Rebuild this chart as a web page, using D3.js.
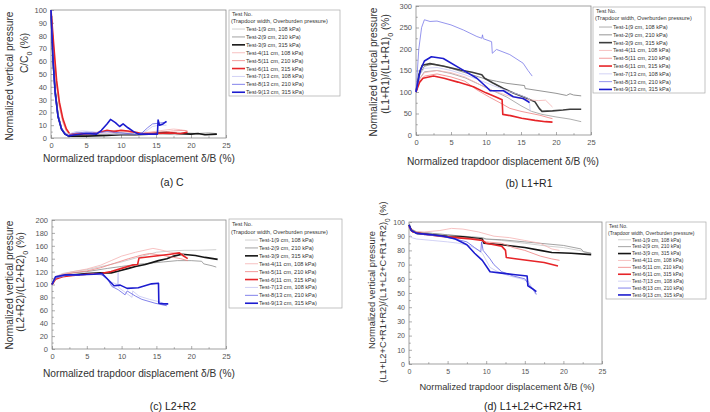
<!DOCTYPE html>
<html>
<head>
<meta charset="utf-8">
<title>Trapdoor pressure</title>
<style>
  body { margin: 0; background: #fff; }
  text { font-family: "Liberation Sans", Arial, sans-serif; }
</style>
</head>
<body>
<script src="https://d3js.org/d3.v7.min.js"></script>
<script>
// legend names
const tests = [
  "Test-1(9 cm, 108 kPa)", "Test-2(9 cm, 210 kPa)", "Test-3(9 cm, 315 kPa)",
  "Test-4(11 cm, 108 kPa)", "Test-5(11 cm, 210 kPa)", "Test-6(11 cm, 315 kPa)",
  "Test-7(13 cm, 108 kPa)", "Test-8(13 cm, 210 kPa)", "Test-9(13 cm, 315 kPa)"
];
const xTicks = [0, 5, 10, 15, 20, 25];
const yTicksA = [0, 10, 20, 30, 40, 50, 60, 70, 80, 90, 100];
const yTicksB = [0, 50, 100, 150, 200, 250, 300];
const yTicksC = [0, 20, 40, 60, 80, 100, 120, 140, 160, 180, 200];
const yTicksD = [0, 10, 20, 30, 40, 50, 60, 70, 80, 90, 100];

// (a) C/C0  -- [delta/B %, value %]
const dataA = [
  [[0,100],[0.3,65],[0.6,40],[1,20],[1.5,8],[2,4],[2.5,2],[4,2],[6,2.5],[8,2],[10,3],[12,2.5],[14,3],[16,3],[18,2.5],[20,3],[22,2.5],[23.6,3]],
  [[0,100],[0.3,62],[0.6,38],[1,18],[1.5,8],[2,4],[2.5,2.5],[5,3],[8,2.5],[10,4],[12,3],[15,3.5],[17,3],[19,4],[21,3.5],[22.5,4],[23.6,3.5]],
  [[0,100],[0.3,60],[0.6,36],[1,17],[1.5,7],[2,3],[2.5,1.5],[5,1.5],[8,2],[10,2.5],[12,2.5],[14,3],[15.5,4],[16.5,4.5],[18,3.5],[20,3],[21,3.5],[22,2.5],[23.7,3]],
  [[0,100],[0.4,70],[0.8,40],[1.2,24],[1.7,12],[2.2,5],[2.7,3],[4,4],[6,3.5],[8,4],[10,5],[12,4],[14,4.5],[16,6],[17.5,7],[18.5,6.5],[19.5,5]],
  [[0,100],[0.4,68],[0.8,42],[1.2,25],[1.7,13],[2.2,6],[2.7,3],[4,3],[6,4],[8,5.5],[9.5,6],[11,5],[13,4],[15,4.5],[16.5,5],[17.5,5.5],[19,6],[19.5,5.5]],
  [[0,100],[0.4,72],[0.8,45],[1.2,28],[1.7,15],[2.2,7],[2.7,3],[4,3],[6,3.5],[7,4.5],[8,6],[9,5],[10,6],[11,5.5],[12.5,4],[13,3],[15,3.5],[17,4],[18.5,3.5],[19.5,4.5]],
  [[0,100],[0.3,60],[0.6,35],[1,18],[1.5,8],[2,4],[2.5,3],[3.5,5],[4.5,5.5],[6,5],[7,4],[9,3],[11,3],[12.5,3],[13.5,5],[14.5,9],[15.5,10],[16.5,10]],
  [[0,100],[0.3,58],[0.6,33],[1,16],[1.5,7],[2,3.5],[2.5,2],[3.5,4],[5,4.5],[6.5,4],[8,5],[10,4],[12,3],[13,4],[13.8,8],[14.5,11],[15.3,11.5],[16,12],[16.5,12.5]],
  [[0,100],[0.3,60],[0.6,35],[1,17],[1.5,7],[2,3],[2.5,1.5],[3.5,2.5],[5,3.5],[6.5,3],[7.2,6],[8,11],[8.5,14.5],[9.2,12],[9.8,9],[10.3,11],[11,8],[11.8,5],[12.5,3],[14,3],[15.2,3],[15.3,14],[15.5,10],[16,11],[16.5,13]]
];

// (b) (L1+R1)/(L1+R1)0
const dataB = [
  [[0,100],[0.5,130],[1.2,147],[3,150],[5,143],[7,133],[9,118],[11,103],[13,88],[15,68],[16.5,55],[18,48],[20,42],[22,37],[23.6,31]],
  [[0,100],[0.5,140],[1.2,160],[2.5,165],[4,160],[6,150],[8,140],[10,130],[11.5,125],[13,120],[15.5,115],[15.6,108],[18,102],[20,97],[21.5,92],[22,96],[22.5,93],[23.6,91]],
  [[0,100],[0.4,140],[0.9,162],[2,166],[4,160],[6.3,151],[8,146],[9.4,140],[9.8,132],[11,121],[12.5,108],[14,97],[15.5,88],[17,77],[17.6,62],[18,55],[19.5,56],[21,58],[22,60],[23.6,60]],
  [[0,100],[0.5,130],[1.2,145],[3,150],[5,145],[7,135],[9,118],[11,103],[13,92],[14.5,86],[16,82],[17.5,80],[18.5,81],[19.5,65]],
  [[0,100],[0.5,125],[1.2,137],[3,142],[5,135],[7,125],[8.7,105],[10.5,88],[12,75],[13.4,62],[15,55],[17.7,46],[19,40],[19.5,38]],
  [[0,100],[0.5,122],[1,132],[2.5,137],[4,132],[6,123],[8.2,112],[10,98],[11.5,88],[12.3,82],[12.4,48],[13.5,45],[15.1,39],[17,34],[18.5,31],[19.5,30]],
  [[0,100],[0.5,140],[1.2,155],[3,157],[5,150],[7,140],[9,128],[11,115],[13,103],[15,92],[16.2,84],[16.3,55]],
  [[0,100],[0.4,200],[0.8,250],[1.2,268],[2,264],[3,265],[5,256],[6.8,244],[8.7,229],[9.4,225],[9.5,233],[9.6,224],[10.8,217],[10.9,190],[11.5,199],[13.4,187],[15.3,167],[16,150],[16.6,137]],
  [[0,100],[0.6,150],[1.2,172],[2.2,182],[3.9,178],[6.3,155],[8.7,132],[10.1,111],[10.6,103],[12.5,103],[13.9,89],[15.3,85],[16,78],[16.2,75]]
];

// (c) (L2+R2)/(L2+R2)0
const dataC = [
  [[0,100],[0.5,112],[1.5,117],[3,120],[5,123],[8,130],[10,135],[12,141],[14,147],[15,150],[17,152],[19,153],[21,153],[23.6,154]],
  [[0,100],[0.5,110],[1.5,115],[3,118],[5,120],[8,125],[10,128],[12,131],[14,133],[16,135],[18,137],[20,137],[21.5,136],[21.8,132],[23,129],[23.6,127]],
  [[0,100],[0.5,110],[2,114],[5,117],[7,118],[8.5,118],[9.6,121],[11,125],[12,128],[13.4,131],[15.3,137],[16.5,140],[17.5,144],[18.7,147],[20.6,145],[22,142],[23.8,139]],
  [[0,100],[0.5,112],[1.5,116],[3,120],[5,124],[7,130],[8.5,137],[10,144],[12,150],[14.5,156],[15.5,154],[17,150],[18.5,148],[19,146]],
  [[0,100],[0.5,110],[1.5,115],[3,118],[5,121],[7,126],[9,133],[11,140],[13,146],[14,148],[16,145],[17.5,142],[18.5,140],[19.5,137]],
  [[0,100],[0.5,108],[1.5,112],[3,114],[5,116],[7,117],[8.5,120],[10,125],[11.5,130],[12.3,131],[12.5,141],[14,143],[15.5,145],[17,147],[18.3,149],[18.8,145],[19.5,140]],
  [[0,100],[0.5,110],[2,114],[4,115],[6,116],[7.5,114],[8.5,104],[9.4,100],[9.5,119],[9.6,95],[10.5,88],[11.5,80],[11.6,90],[12.5,82],[14,77],[15.5,73],[16.5,69]],
  [[0,100],[0.5,110],[2,114],[4,115],[6,116],[7,116],[8,108],[8.6,97],[9.5,92],[10.5,84],[10.8,90],[12,82],[12.9,77],[14.8,71],[16.5,67]],
  [[0,100],[0.5,112],[1.9,115],[4,115],[6,116],[7.2,117],[8.1,107],[8.9,98],[9.8,99],[10.8,94],[12.4,95],[14.3,101],[15.3,102],[15.35,71],[16,70],[16.7,70]]
];

// (d) total
const dataD = [
  [[0,100],[0.3,95],[1,93],[3,92],[5,91],[8,89],[10,88],[12,87],[15,85],[18,83],[20,82],[22,80],[23.6,78]],
  [[0,98],[0.3,95],[1,93],[3,92],[5,91],[7,90],[9.5,89],[10,88],[12,87.5],[15,86],[18,84.5],[20,83.5],[22.3,81],[22.6,79],[23.6,78]],
  [[0,98],[0.3,94],[1,92],[3,91],[5,90],[7,89.5],[9.5,88],[9.7,85],[12,84],[15,82],[17,80],[18.5,78.5],[21,78],[23.6,77]],
  [[0,97],[0.5,93],[2,93],[4,94],[5.5,95.5],[7,95],[9,93],[11,90],[13,89],[15,87],[17,85],[18.5,81],[19.5,80]],
  [[0,96],[0.5,93],[2,91],[4,90],[6,89.5],[9,88],[10,86],[12,85],[13.5,82],[15,80],[17,76],[18.5,74],[19.5,73]],
  [[0,97],[0.5,93],[2,91.5],[4,90],[6,89],[8,88],[9.5,87],[10,85],[12,83],[12.5,80],[12.6,75],[14,74],[16,72.5],[17.5,71.5],[19.3,69]],
  [[0,92],[0.3,89],[1,88],[3,87],[5,86],[6.5,85],[8,83],[9,80],[9.5,78],[10,73],[10.5,68],[11.5,65],[13,62],[14.5,60],[15.5,58],[16,53],[16.4,49]],
  [[0,96],[0.5,93],[2,91],[4,90],[6,88],[7.5,86],[8.5,82],[9.3,79],[9.4,86],[9.6,80],[10.5,74],[11,70],[12,65],[13.5,62],[15,60],[15.5,56],[16.2,52],[16.5,49]],
  [[0,98],[0.3,94],[1,92],[3,91],[4.5,90],[6,88],[7.5,84],[8.5,78],[9.5,73],[10.5,65],[12,64],[13.5,63],[15.3,62],[15.4,55],[16,53],[16.5,51]]
];

const colors = ["#c4c4c4", "#8c8c8c", "#151515", "#f5b3b3", "#ef8080", "#e62428", "#c6c6f2", "#6262e4", "#1c1ccf"];
const widths = [0.8, 0.8, 1.6, 0.8, 0.8, 1.6, 0.8, 0.8, 1.6];

const svg = d3.select("body").append("svg")
    .attr("width", 710)
    .attr("height", 412);

function drawPanel(p) {
    const x = d3.scaleLinear().domain([0, 25]).range([p.box[0], p.box[2]]);
    const y = d3.scaleLinear().domain([0, p.yMax]).range([p.box[3], p.box[1]]);
    const g = svg.append("g");

    // frame
    g.append("rect")
        .attr("x", p.box[0]).attr("y", p.box[1])
        .attr("width", p.box[2] - p.box[0]).attr("height", p.box[3] - p.box[1])
        .attr("fill", "none").attr("stroke", "#8a8a8a").attr("stroke-width", 0.8);

    // axes, ticks pointing inward
    const xAxis = g.append("g")
        .attr("transform", `translate(0,${p.box[3]})`)
        .call(d3.axisBottom(x).tickValues(d3.range(0, 25.01, 2.5)).tickSize(-3).tickPadding(5)
            .tickFormat(d => xTicks.includes(d) ? d : ""));
    const yAxis = g.append("g")
        .attr("transform", `translate(${p.box[0]},0)`)
        .call(d3.axisLeft(y).tickValues(d3.range(0, p.yMax + 0.01, p.minor)).tickSize(-3).tickPadding(4)
            .tickFormat(d => p.yTicks.includes(d) ? d : ""));
    // minor ticks shorter
    xAxis.selectAll(".tick line").attr("y2", d => xTicks.includes(d) ? -3 : -1.8);
    yAxis.selectAll(".tick line").attr("x2", d => p.yTicks.includes(d) ? 3 : 1.8);
    [xAxis, yAxis].forEach(a => {
        a.select(".domain").remove();
        a.selectAll(".tick line").attr("stroke", "#777").attr("stroke-width", 0.6);
        a.selectAll(".tick text").attr("fill", "#555").attr("font-size", p.tickFs)
            .attr("font-family", "Liberation Sans, Arial, sans-serif");
    });

    // series
    const line = d3.line().x(d => x(d[0])).y(d => y(d[1]));
    p.data.forEach((s, i) => {
        g.append("path")
            .datum(s)
            .attr("fill", "none")
            .attr("stroke", p.colors ? p.colors[i] : colors[i])
            .attr("stroke-width", widths[i])
            .attr("stroke-linejoin", "round")
            .attr("d", line);
    });

    // legend
    const L = p.legend;
    g.append("rect")
        .attr("x", L.x).attr("y", L.y).attr("width", L.w).attr("height", L.h)
        .attr("fill", "#fff").attr("stroke", "#aaa").attr("stroke-width", 0.7);
    g.append("text").attr("x", L.x + 3).attr("y", L.t1)
        .attr("font-size", L.fs).attr("fill", "#333").text("Test No.");
    g.append("text").attr("x", L.x + 2).attr("y", L.t2)
        .attr("font-size", L.fs).attr("fill", "#333").text("(Trapdoor width, Overburden pressure)");
    tests.forEach((t, i) => {
        const ty = L.first + i * L.step;
        g.append("line")
            .attr("x1", L.x + L.lx0).attr("x2", L.x + L.lx1)
            .attr("y1", ty - L.fs * 0.35).attr("y2", ty - L.fs * 0.35)
            .attr("stroke", p.colors ? p.colors[i] : colors[i])
            .attr("stroke-width", widths[i]);
        g.append("text").attr("x", L.x + L.lx1 + 1).attr("y", ty)
            .attr("font-size", L.fs).attr("fill", "#333").text(t);
    });

    // x title
    g.append("text")
        .attr("x", p.xl[0]).attr("y", p.xl[1])
        .attr("text-anchor", "middle").attr("font-size", p.labFs).attr("fill", "#333")
        .text("Normalized trapdoor displacement δ/B (%)");

    // y title, two lines
    g.append("text")
        .attr("transform", `translate(${p.yl1[0]},${p.yl1[1]}) rotate(-90)`)
        .attr("text-anchor", "middle").attr("font-size", p.labFs).attr("fill", "#333")
        .text("Normalized vertical pressure");
    const t2 = g.append("text")
        .attr("transform", `translate(${p.yl2[0]},${p.yl2[1]}) rotate(-90)`)
        .attr("text-anchor", "middle").attr("font-size", p.labFs).attr("fill", "#333");
    t2.append("tspan").text(p.yName);
    t2.append("tspan").attr("baseline-shift", "sub").attr("font-size", p.labFs * 0.7).text("0");
    t2.append("tspan").text(" (%)");

    // caption
    g.append("text")
        .attr("x", p.cap[0]).attr("y", p.cap[1])
        .attr("text-anchor", "middle").attr("font-size", 10.5).attr("fill", "#222")
        .attr("font-family", "Noto Sans CJK KR, sans-serif")
        .text(p.caption);
}

drawPanel({
    box: [51, 10, 226, 138], yMax: 100, yTicks: yTicksA, minor: 5, data: dataA,
    tickFs: 7.5, labFs: 10.2,
    legend: { x: 229, y: 10, w: 111, h: 86, fs: 5.6, t1: 16, t2: 23, first: 31, step: 7.9, lx0: 3, lx1: 16 },
    xl: [139, 162], yl1: [13, 76], yl2: [28, 53], yName: "C/C",
    cap: [172, 186], caption: "(a)  C"
});
drawPanel({
    box: [416, 6, 591, 135], yMax: 300, yTicks: yTicksB, minor: 25, data: dataB,
    colors: ["#9a9a9a", "#7a7a7a", "#3c3c3c", "#f5b3b3", "#ef8080", "#e62428", "#c6c6f2", "#7a7ae8", "#1c1ccf"],
    tickFs: 7.5, labFs: 10.2,
    legend: { x: 593, y: 7, w: 112, h: 86, fs: 5.6, t1: 13, t2: 20, first: 29, step: 7.8, lx0: 6, lx1: 19 },
    xl: [503, 165], yl1: [377, 72], yl2: [389, 64], yName: "(L1+R1)/(L1+R1)",
    cap: [529, 187], caption: "(b)  L1+R1"
});
drawPanel({
    box: [52, 220, 226, 349], yMax: 200, yTicks: yTicksC, minor: 10, data: dataC,
    tickFs: 7.5, labFs: 10.2,
    legend: { x: 229, y: 219, w: 113, h: 89, fs: 5.6, t1: 226, t2: 234, first: 242, step: 7.9, lx0: 16, lx1: 29 },
    xl: [139, 377], yl1: [13, 285], yl2: [24, 282], yName: "(L2+R2)/(L2+R2)",
    cap: [173, 410], caption: "(c)  L2+R2"
});
drawPanel({
    box: [409, 222, 602, 364], yMax: 100, yTicks: yTicksD, minor: 5, data: dataD,
    tickFs: 7, labFs: 9.3,
    legend: { x: 606, y: 222, w: 100, h: 77, fs: 5, t1: 228, t2: 235, first: 241.5, step: 6.9, lx0: 12, lx1: 25 },
    xl: [507, 390], yl1: [375, 290], yl2: [386, 292], yName: "(L1+L2+C+R1+R2)/(L1+L2+C+R1+R2)",
    cap: [533, 410], caption: "(d)  L1+L2+C+R2+R1"
});
</script>
</body>
</html>
